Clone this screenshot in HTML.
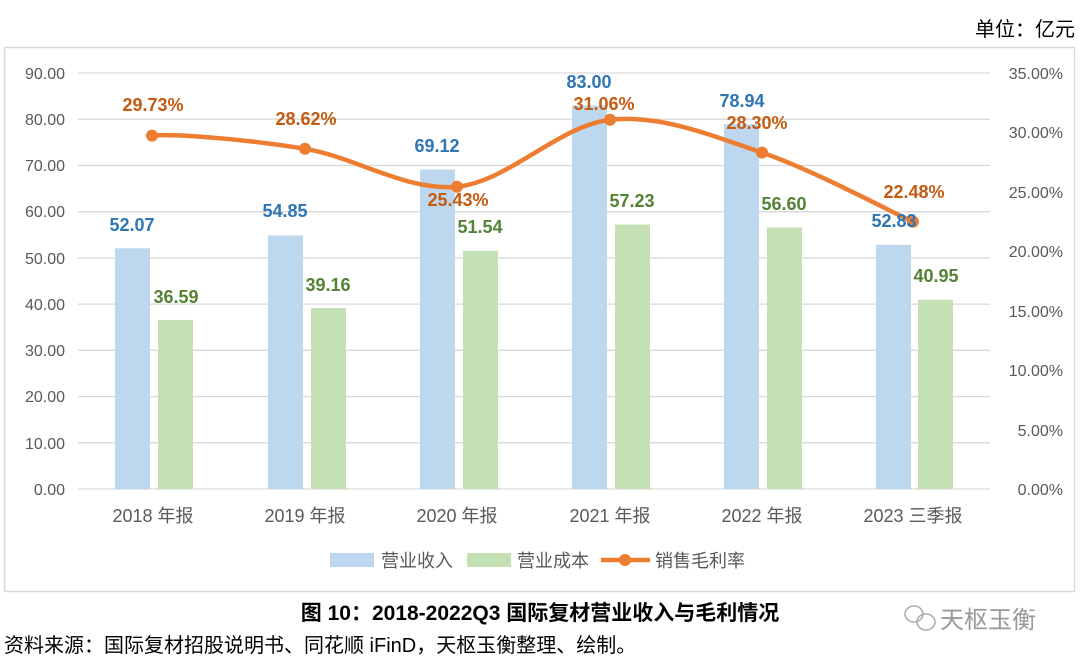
<!DOCTYPE html>
<html><head><meta charset="utf-8"><style>
body{margin:0;background:#fff;width:1080px;height:667px;overflow:hidden}
svg{display:block;font-family:"Liberation Sans","Noto Sans CJK SC",sans-serif}
</style></head><body>
<svg width="1080" height="667" viewBox="0 0 1080 667">
<text x="1075" y="36" font-size="20" text-anchor="end" fill="#000">单位：亿元</text>
<rect x="4.5" y="47.5" width="1070" height="544" fill="#fff" stroke="#d9d9d9" stroke-width="1.5"/>
<g stroke="#d9d9d9" stroke-width="1.3">
<line x1="78" x2="990" y1="73" y2="73"/><line x1="78" x2="990" y1="119.2" y2="119.2"/>
<line x1="78" x2="990" y1="165.5" y2="165.5"/><line x1="78" x2="990" y1="211.7" y2="211.7"/>
<line x1="78" x2="990" y1="257.9" y2="257.9"/><line x1="78" x2="990" y1="304.1" y2="304.1"/>
<line x1="78" x2="990" y1="350.3" y2="350.3"/><line x1="78" x2="990" y1="396.6" y2="396.6"/>
<line x1="78" x2="990" y1="442.8" y2="442.8"/><line x1="78" x2="990" y1="489" y2="489"/>
</g>
<g font-size="16" fill="#595959" text-anchor="end">
<text x="65" y="79">90.00</text><text x="65" y="125">80.00</text><text x="65" y="171">70.00</text>
<text x="65" y="217">60.00</text><text x="65" y="264">50.00</text><text x="65" y="310">40.00</text>
<text x="65" y="356">30.00</text><text x="65" y="402">20.00</text><text x="65" y="449">10.00</text>
<text x="65" y="495">0.00</text>
</g>
<g font-size="16" fill="#595959" text-anchor="end">
<text x="1063" y="79">35.00%</text><text x="1063" y="138">30.00%</text><text x="1063" y="198">25.00%</text>
<text x="1063" y="257">20.00%</text><text x="1063" y="317">15.00%</text><text x="1063" y="376">10.00%</text>
<text x="1063" y="436">5.00%</text><text x="1063" y="495">0.00%</text>
</g>
<g fill="#bdd7ee">
<rect x="115" y="248.3" width="35" height="240.7"/>
<rect x="268" y="235.5" width="35" height="253.5"/>
<rect x="420" y="169.5" width="35" height="319.5"/>
<rect x="572" y="105.4" width="35" height="383.6"/>
<rect x="724" y="124.1" width="35" height="364.9"/>
<rect x="876" y="244.8" width="35" height="244.2"/>
</g>
<g fill="#c5e0b4">
<rect x="158" y="319.9" width="35" height="169.1"/>
<rect x="311" y="308" width="35" height="181"/>
<rect x="463" y="250.8" width="35" height="238.2"/>
<rect x="615" y="224.5" width="35" height="264.5"/>
<rect x="767" y="227.4" width="35" height="261.6"/>
<rect x="918" y="299.7" width="35" height="189.3"/>
</g>
<g font-size="18" fill="#595959" text-anchor="middle">
<text x="153" y="522">2018 年报</text><text x="305" y="522">2019 年报</text><text x="457" y="522">2020 年报</text>
<text x="610" y="522">2021 年报</text><text x="762" y="522">2022 年报</text><text x="913" y="522">2023 三季报</text>
</g>
<path d="M152,135.6 C177.5,133.4 254.2,140.3 305,148.8 C355.8,157.3 406.2,191.5 457,186.7 C507.8,181.9 559.2,125.5 610,119.8 C660.8,114.1 711.5,135.6 762,152.6 C812.5,169.6 887.8,210.3 913,221.8" fill="none" stroke="#ed7d31" stroke-width="4.5" stroke-linecap="round"/>
<g fill="#ed7d31">
<circle cx="152" cy="135.6" r="6"/><circle cx="305" cy="148.8" r="6"/><circle cx="457" cy="186.7" r="6"/>
<circle cx="610" cy="119.8" r="6"/><circle cx="762" cy="152.6" r="6"/><circle cx="913" cy="221.8" r="6"/>
</g>
<g font-size="18" font-weight="bold" fill="#2e75b6" text-anchor="middle">
<text x="132" y="231">52.07</text><text x="285" y="217">54.85</text><text x="437" y="152">69.12</text>
<text x="589" y="88">83.00</text><text x="742" y="107">78.94</text><text x="894" y="227">52.83</text>
</g>
<g font-size="18" font-weight="bold" fill="#548235" text-anchor="middle">
<text x="176" y="303">36.59</text><text x="328" y="291">39.16</text><text x="480" y="233">51.54</text>
<text x="632" y="207">57.23</text><text x="784" y="210">56.60</text><text x="936" y="282">40.95</text>
</g>
<g font-size="18" font-weight="bold" fill="#c55a11" text-anchor="middle">
<text x="153" y="111">29.73%</text><text x="306" y="125">28.62%</text><text x="458" y="206">25.43%</text>
<text x="604" y="110">31.06%</text><text x="757" y="129">28.30%</text><text x="914" y="198">22.48%</text>
</g>
<rect x="330" y="553" width="44" height="14" fill="#bdd7ee"/>
<text x="381" y="567" font-size="18" fill="#595959">营业收入</text>
<rect x="467" y="553" width="44" height="14" fill="#c5e0b4"/>
<text x="517" y="567" font-size="18" fill="#595959">营业成本</text>
<line x1="601" x2="650" y1="560" y2="560" stroke="#ed7d31" stroke-width="4.5"/>
<circle cx="625" cy="560" r="6" fill="#ed7d31"/>
<text x="655" y="567" font-size="18" fill="#595959">销售毛利率</text>
<text x="540" y="620" font-size="21" font-weight="bold" text-anchor="middle" fill="#000">图 10：2018-2022Q3 国际复材营业收入与毛利情况</text>
<text x="4" y="652" font-size="20" fill="#000">资料来源：国际复材招股说明书、同花顺 iFinD，天枢玉衡整理、绘制。</text>
<g fill="none" stroke="#aaa" stroke-width="1.5"><ellipse cx="914" cy="614" rx="9" ry="8"/><ellipse cx="926" cy="622" rx="9" ry="8"/></g>
<text x="940" y="628" font-size="24" fill="#999">天枢玉衡</text>
</svg>
</body></html>
